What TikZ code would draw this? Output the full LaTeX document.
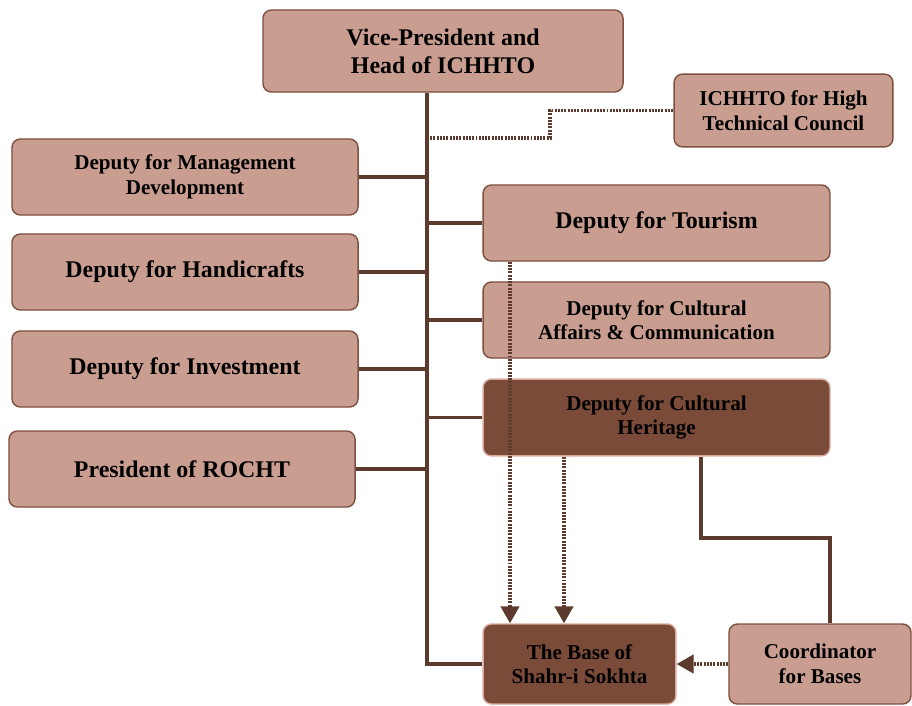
\documentclass[tikz,border=0pt]{standalone}
\usepackage{fontspec}
\setmainfont{Liberation Serif}
\usetikzlibrary{arrows.meta}
\definecolor{OrgLight}{RGB}{201,158,145}
\definecolor{OrgEdge}{RGB}{125,80,64}
\definecolor{OrgDark}{RGB}{123,75,58}
\definecolor{OrgDarkEdge}{RGB}{215,170,155}
\definecolor{OrgLine}{RGB}{92,58,46}
\tikzset{
  unit/.style={draw=OrgEdge,fill=OrgLight,line width=1pt,rounded corners=6pt,align=center,
    font=\bfseries\fontsize{15}{17.5}\selectfont},
  keyunit/.style={unit,draw=OrgDarkEdge,fill=OrgDark},
  link/.style={OrgLine,line width=2.2pt},
  dots/.style={OrgLine,line width=2.2pt,dash pattern=on 1.4pt off 0.9pt},
  dotarrow/.style={dots,-{Triangle[width=13pt,length=12pt]}}
}
\begin{document}
\begin{tikzpicture}[x=0.025cm,y=-0.025cm]
      \useasboundingbox (0,0) rectangle (912,705);
      \node[unit,minimum width=9cm,minimum height=2.05cm,font=\bfseries\fontsize{17}{20}\selectfont] (vp) at (443,51) {Vice-President and\\Head of ICHHTO};
      \node[unit,minimum width=5.47cm,minimum height=1.82cm] (htc) at (783.5,110.5) {ICHHTO for High\\Technical Council};
      \node[unit,minimum width=8.65cm,minimum height=1.9cm] (mgmt) at (185,177) {Deputy for Management\\Development};
      \node[unit,minimum width=8.65cm,minimum height=1.9cm,font=\bfseries\fontsize{17}{20}\selectfont] (hand) at (185,272) {Deputy for Handicrafts};
      \node[unit,minimum width=8.65cm,minimum height=1.9cm,font=\bfseries\fontsize{17}{20}\selectfont] (inv) at (185,369) {Deputy for Investment};
      \node[unit,minimum width=8.65cm,minimum height=1.9cm,font=\bfseries\fontsize{17}{20}\selectfont] (rocht) at (182,469) {President of ROCHT};
      \node[unit,minimum width=8.67cm,minimum height=1.9cm,font=\bfseries\fontsize{17}{20}\selectfont] (tour) at (656.5,223) {Deputy for Tourism};
      \node[unit,minimum width=8.67cm,minimum height=1.9cm] (cult) at (656.5,320) {Deputy for Cultural\\Affairs \& Communication};
      \node[keyunit,minimum width=8.67cm,minimum height=1.92cm] (herit) at (656.5,417.5) {Deputy for Cultural\\Heritage};
      \node[keyunit,minimum width=4.82cm,minimum height=2cm] (base) at (579.5,664) {The Base of\\Shahr-i Sokhta};
      \node[unit,minimum width=4.55cm,minimum height=2cm] (coord) at (820,664) {Coordinator\\for Bases};
      % trunk and branches
      \coordinate (t) at (427,92);
      \draw[link] (vp.south -| t) |- (base.west);
      \foreach \n in {mgmt,hand,inv,rocht,tour,cult,herit}
        \draw[link] (\n) -- (\n -| t);
      \draw[dots] (t |- 0,138) -- (550,138) |- (htc.west);
      % links to the base
      \draw[dotarrow] (tour.south -| 510,0) -- (base.north -| 510,0);
      \draw[dotarrow] (herit.south -| 564,0) -- (base.north -| 564,0);
      \draw[link] (herit.south -| 701,0) |- (830,538) -- (coord.north -| 830,0);
      \draw[dotarrow] (coord.west) -- (base.east);
    \end{tikzpicture}
\end{document}
